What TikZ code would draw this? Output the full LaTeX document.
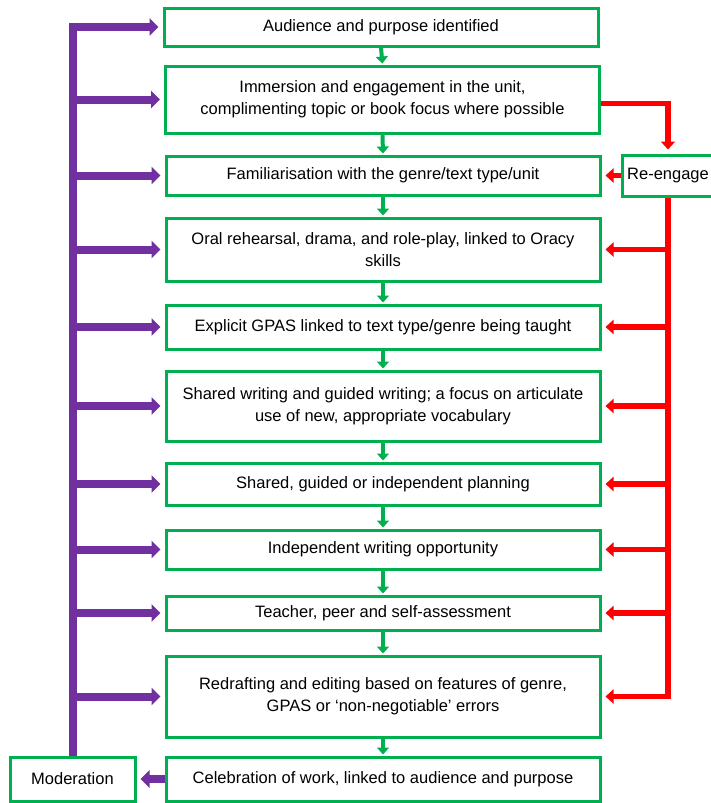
\documentclass[tikz,border=0pt]{standalone}
\usepackage{fontspec}
\setmainfont{Liberation Sans}
\usetikzlibrary{arrows.meta}
\definecolor{stepgreen}{RGB}{0,176,80}
\definecolor{modpurple}{RGB}{112,48,160}
\definecolor{engred}{RGB}{255,0,0}

\begin{document}
\begin{tikzpicture}[x=1pt,y=-1pt,
    every node/.style={font=\fontsize{16.5}{22}\selectfont},
    stagebox/.style={draw=stepgreen,line width=3pt,minimum width=434pt,
      align=center,inner sep=2pt},
    flow/.style={stepgreen,line width=4pt,-{Triangle[length=7pt,width=12pt]},
      shorten >=1pt},
    moderate/.style={modpurple,line width=8pt,
      -{Triangle[length=9pt,width=17pt]},shorten >=4pt},
    reengage/.style={engred,line width=5.5pt,
      -{Triangle[length=8pt,width=14pt]},shorten >=4pt}]
  \useasboundingbox (0,0) rectangle (710,803);
  % stages down the middle
  \node[stagebox,minimum height=38pt] (aud) at (381,27)
    {Audience and purpose identified};
  \node[stagebox,minimum height=67pt] (imm) at (382.5,99.5)
    {Immersion and engagement in the unit,\\
     complimenting topic or book focus where possible};
  \node[stagebox,minimum height=39pt] (fam) at (383,175.5)
    {Familiarisation with the genre/text type/unit};
  \node[stagebox,minimum height=63pt] (oral) at (383,249.5)
    {Oral rehearsal, drama, and role-play, linked to Oracy\\skills};
  \node[stagebox,minimum height=44pt] (gpas) at (383,327)
    {Explicit GPAS linked to text type/genre being taught};
  \node[stagebox,minimum height=70pt] (shared) at (383,406)
    {Shared writing and guided writing; a focus on articulate\\
     use of new, appropriate vocabulary};
  \node[stagebox,minimum height=42pt] (plan) at (383,484)
    {Shared, guided or independent planning};
  \node[stagebox,minimum height=39pt] (indep) at (383,549.5)
    {Independent writing opportunity};
  \node[stagebox,minimum height=34pt] (assess) at (383,613)
    {Teacher, peer and self-assessment};
  \node[stagebox,minimum height=81pt] (redraft) at (383,696.5)
    {Redrafting and editing based on features of genre,\\
     GPAS or `non-negotiable' errors};
  \node[stagebox,minimum height=44pt] (celeb) at (383,779)
    {Celebration of work, linked to audience and purpose};
  % side boxes
  \node[stagebox,minimum width=125pt,minimum height=44pt] (moder) at (72.5,779)
    {Moderation};
  \node[stagebox,minimum width=92pt,minimum height=41pt] (reeng) at (668,175.5)
    {Re-engage};

  % green flow
  \foreach \a/\b in {aud/imm,imm/fam,fam/oral,oral/gpas,gpas/shared,
      shared/plan,plan/indep,indep/assess,assess/redraft,redraft/celeb}
    \draw[flow] (\a.south) -- (\b.north);

  % moderation loop
  \draw[moderate] (celeb.west) -- (moder.east);
  \draw[moderate] (moder.north) |- (aud.west);
  \foreach \n in {imm,fam,oral,gpas,shared,plan,indep,assess,redraft}
    \draw[moderate] (moder.north |- \n.west) -- (\n.west);

  % re-engage loop
  \draw[reengage] ([yshift=-4pt]imm.east) -| (reeng.north);
  \draw[reengage] (reeng.west) -- (fam.east);
  \draw[reengage] (reeng.south) |- (redraft.east);
  \foreach \n in {oral,gpas,shared,plan,indep,assess}
    \draw[reengage] (reeng.south |- \n.east) -- (\n.east);
\end{tikzpicture}
\end{document}
